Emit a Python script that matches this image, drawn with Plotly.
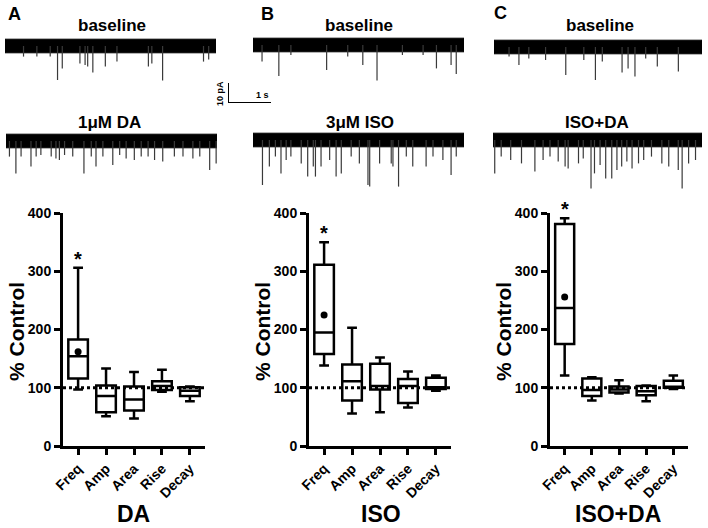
import plotly.graph_objects as go

W, H = 708, 528
FONT = "Liberation Sans, Arial, sans-serif"

# ---------------- data ----------------
params = ["Freq", "Amp", "Area", "Rise", "Decay"]
panel_titles = ["DA", "ISO", "ISO+DA"]
panel_letters = ["A", "B", "C"]
condition_labels = ["1\u03bcM DA", "3\u03bcM ISO", "ISO+DA"]
control_level = 100
y_ticks = [0, 100, 200, 300, 400]

# box statistics (% control): whisker min, q1, median, q3, whisker max
da_low = [97, 51, 47, 93, 77]
da_q1 = [116, 58, 61, 96, 86]
da_med = [154, 86, 80, 103, 95]
da_q3 = [183, 104, 102, 111, 101]
da_high = [306, 133, 127, 131, 102]
da_freq_mean = 162

iso_low = [138, 56, 58, 66, 95]
iso_q1 = [158, 78, 97, 74, 98]
iso_med = [195, 111, 103, 103, 101]
iso_q3 = [311, 140, 141, 115, 117]
iso_high = [350, 203, 152, 128, 121]
iso_freq_mean = 225

isoda_low = [121, 78, 90, 77, 98]
isoda_q1 = [175, 86, 92, 87, 100]
isoda_med = [237, 96, 97, 94, 101]
isoda_q3 = [381, 116, 102, 103, 112]
isoda_high = [391, 118, 113, 104, 121]
isoda_freq_mean = 256

trace_len_s = [4.9, 4.9, 4.84]
noise_half_pA = 3.4

a_base_t = [0.43, 0.74, 1.05, 1.22, 1.33, 1.74, 1.86, 1.92, 2.04, 2.33, 2.60, 3.33, 3.41, 3.66, 4.61, 4.73]
a_base_a = [5.3, 5.3, 5.3, 17.0, 11.2, 8.7, 9.5, 10.3, 13.3, 10.3, 7.8, 10.3, 8.7, 17.3, 7.8, 6.7]
a_drug_t = [0.08, 0.23, 0.35, 0.58, 0.70, 0.81, 1.05, 1.16, 1.24, 1.36, 1.55, 1.81, 1.98, 2.09, 2.25,
            2.48, 2.64, 2.79, 2.98, 3.14, 3.30, 3.45, 3.64, 3.91, 4.11, 4.34, 4.50, 4.73, 4.88]
a_drug_a = [7.8, 16.2, 7.8, 12.8, 7.8, 7.0, 7.8, 8.7, 9.5, 7.0, 7.8, 16.2, 7.8, 12.8, 7.8,
            12.0, 7.0, 8.7, 9.5, 7.8, 7.8, 9.5, 10.3, 7.8, 7.8, 8.7, 7.8, 14.5, 11.2]
b_base_t = [0.21, 0.60, 0.88, 1.71, 2.20, 2.55, 2.88, 3.47, 3.95, 4.26, 4.60, 4.72]
b_base_a = [8.3, 15.5, 5.0, 12.5, 5.8, 10.0, 17.8, 5.0, 5.0, 11.7, 10.0, 14.5]
b_drug_t = [0.22, 0.38, 0.52, 0.65, 0.77, 0.88, 1.12, 1.27, 1.40, 1.45, 1.58, 1.78, 1.93, 2.05, 2.28,
            2.47, 2.67, 2.71, 2.94, 3.21, 3.25, 3.38, 3.56, 3.71, 4.02, 4.18, 4.41, 4.60, 4.72]
b_drug_a = [22.5, 13.3, 8.3, 16.7, 10.0, 8.3, 11.7, 18.3, 13.3, 18.3, 13.3, 10.0, 18.3, 16.7, 8.3,
            11.7, 22.5, 23.3, 11.7, 11.7, 13.3, 23.3, 8.3, 13.3, 13.3, 8.3, 10.0, 17.5, 8.3]
c_base_t = [0.35, 0.58, 0.81, 1.20, 1.67, 2.09, 2.36, 2.52, 2.98, 3.12, 3.28, 3.53, 3.80, 4.29]
c_base_a = [4.8, 9.0, 5.7, 6.5, 14.0, 6.5, 16.5, 7.3, 12.8, 10.7, 14.8, 5.7, 9.8, 12.3]
c_drug_t = [0.04, 0.19, 0.41, 0.66, 0.97, 1.16, 1.32, 1.51, 1.67, 1.74, 1.98, 2.09, 2.27, 2.35, 2.48,
            2.61, 2.75, 2.87, 2.98, 3.10, 3.22, 3.37, 3.49, 3.67, 3.91, 4.07, 4.29, 4.38, 4.53, 4.69]
c_drug_a = [16.7, 8.3, 10.0, 11.7, 15.8, 10.0, 8.3, 10.8, 13.3, 14.2, 11.7, 9.2, 24.2, 16.7, 12.5,
            19.2, 19.2, 15.0, 13.3, 10.8, 14.2, 11.7, 10.0, 8.3, 11.7, 13.3, 15.0, 24.2, 11.7, 10.0]

scale_pA = 10
scale_s = 1

# ---------------- layout helpers ----------------
def fx(p):
    return p / W

def fy(p):
    return 1 - p / H

def label(x, y, text, size, angle=0, **kw):
    d = dict(x=fx(x), y=fy(y), xref="paper", yref="paper", text=text, showarrow=False,
             xanchor="center", yanchor="middle", textangle=angle,
             font=dict(size=size, weight="bold", family=FONT))
    d.update(kw)
    return d

fig = go.Figure()
layout = dict(width=W, height=H, margin=dict(l=0, r=0, t=0, b=0, pad=0, autoexpand=False),
              template="none",
              paper_bgcolor="white", plot_bgcolor="rgba(0,0,0,0)",
              showlegend=False, font=dict(family=FONT, color="black"))
annotations = []

box_sets = [
    (da_low, da_q1, da_med, da_q3, da_high, da_freq_mean),
    (iso_low, iso_q1, iso_med, iso_q3, iso_high, iso_freq_mean),
    (isoda_low, isoda_q1, isoda_med, isoda_q3, isoda_high, isoda_freq_mean),
]
box_x_px = [(63, 205), (309, 451), (550, 688)]
box_y_px = (213, 446)
ytitle_x = [16, 262, 503]
title_x = [133, 381, 618]
xr = [-0.54, 4.54]
cats = list(range(len(params)))

for i, (lo, q1, med, q3, hi, mn) in enumerate(box_sets):
    n = "" if i == 0 else str(i + 1)
    xa, ya = "x" + n, "y" + n
    fig.add_trace(go.Scatter(x=xr, y=[control_level, control_level], mode="lines",
                             line=dict(color="black", width=3, dash="dot"),
                             xaxis=xa, yaxis=ya, hoverinfo="skip"))
    fig.add_trace(go.Box(x=cats, lowerfence=lo, q1=q1, median=med, q3=q3, upperfence=hi,
                         width=0.7, whiskerwidth=0.5, boxpoints=False,
                         fillcolor="white", line=dict(color="black", width=2.5),
                         xaxis=xa, yaxis=ya))
    fig.add_trace(go.Scatter(x=[cats[0]], y=[mn], mode="markers",
                             marker=dict(color="black", size=7),
                             xaxis=xa, yaxis=ya))
    layout["xaxis" + n] = dict(domain=[fx(box_x_px[i][0]), fx(box_x_px[i][1])], range=xr,
                               anchor=ya, showline=True, linewidth=3, linecolor="black",
                               ticks="outside", ticklen=6, tickwidth=3, tickcolor="black",
                               tickvals=cats, ticktext=params, tickangle=-45,
                               tickfont=dict(size=14, weight="bold", family=FONT),
                               showgrid=False, zeroline=False, fixedrange=True, automargin=False)
    layout["yaxis" + n] = dict(domain=[fy(box_y_px[1]), fy(box_y_px[0])], range=[0, 400],
                               anchor=xa, showline=True, linewidth=3, linecolor="black",
                               ticks="outside", ticklen=6, tickwidth=3, tickcolor="black",
                               tickvals=y_ticks, tickfont=dict(size=14, weight="bold", family=FONT),
                               showgrid=False, zeroline=False, fixedrange=True, automargin=False)
    annotations.append(dict(x=cats[0], y=hi[0], xref=xa, yref=ya, text="*", showarrow=False,
                            xanchor="center", yanchor="bottom", yshift=-4,
                            font=dict(size=20, weight="bold", family=FONT)))
    annotations.append(label(ytitle_x[i], 332, "% Control", 21, angle=-90))
    annotations.append(label(title_x[i], 514, panel_titles[i], 23))

# ---------------- current traces ----------------
traces = [
    (a_base_t, a_base_a, 0), (a_drug_t, a_drug_a, 0),
    (b_base_t, b_base_a, 1), (b_drug_t, b_drug_a, 1),
    (c_base_t, c_base_a, 2), (c_drug_t, c_drug_a, 2),
]
trace_x_px = [(5, 216), (6, 217), (253, 464), (253, 464), (494, 702), (493, 702)]
trace_center_px = [46, 141, 45, 140, 47, 140]
PX_PER_PA = 2.0
y_top_pa, y_bot_pa = 8, -28

for k, (ts, amps, p) in enumerate(traces):
    n = str(4 + k)
    xa, ya = "x" + n, "y" + n
    L = trace_len_s[p]
    fig.add_trace(go.Scatter(x=[0, L, L, 0, 0],
                             y=[-noise_half_pA, -noise_half_pA, noise_half_pA, noise_half_pA, -noise_half_pA],
                             mode="lines", fill="toself", fillcolor="black",
                             line=dict(color="black", width=1), xaxis=xa, yaxis=ya))
    sx, sy = [], []
    for t, a in zip(ts, amps):
        sx += [t, t, None]
        sy += [0, -a, None]
    fig.add_trace(go.Scatter(x=sx, y=sy, mode="lines", line=dict(color="#3a3a3a", width=1.2),
                             xaxis=xa, yaxis=ya))
    c = trace_center_px[k]
    layout["xaxis" + n] = dict(domain=[fx(trace_x_px[k][0]), fx(trace_x_px[k][1])], range=[0, L],
                               anchor=ya, visible=False, fixedrange=True, automargin=False)
    layout["yaxis" + n] = dict(domain=[fy(c - y_bot_pa * PX_PER_PA), fy(c - y_top_pa * PX_PER_PA)],
                               range=[y_bot_pa, y_top_pa], anchor=xa, visible=False,
                               fixedrange=True, automargin=False)

# scale bar
fig.add_trace(go.Scatter(x=[0, 0, scale_s], y=[scale_pA, 0, 0], mode="lines",
                         line=dict(color="black", width=2), xaxis="x10", yaxis="y10"))
layout["xaxis10"] = dict(domain=[fx(228), fx(271)], range=[0, scale_s], anchor="y10",
                         visible=False, fixedrange=True, automargin=False)
layout["yaxis10"] = dict(domain=[fy(103), fy(83)], range=[0, scale_pA], anchor="x10",
                         visible=False, fixedrange=True, automargin=False)
annotations.append(dict(x=0, y=scale_pA / 2, xref="x10", yref="y10", text=f"{scale_pA} pA",
                        textangle=-90, showarrow=False, xanchor="right", yanchor="middle", xshift=-1,
                        font=dict(size=9, weight="bold", family=FONT)))
annotations.append(dict(x=0.8, y=0, xref="x10", yref="y10", text=f"{scale_s} s",
                        showarrow=False, xanchor="center", yanchor="bottom", yshift=1,
                        font=dict(size=9, weight="bold", family=FONT)))

# trace titles and panel letters
base_title_x = [112, 359, 600]
drug_title_x = [109, 360, 597]
letter_pos = [(14, 14), (267, 14), (500, 13)]
for i in range(3):
    annotations.append(label(base_title_x[i], 26, "baseline", 17))
    annotations.append(label(drug_title_x[i], 122, condition_labels[i], 17))
    annotations.append(label(letter_pos[i][0], letter_pos[i][1], panel_letters[i], 18))

layout["annotations"] = annotations
fig.update_layout(**layout)
fig.write_html("out.html", config={"displayModeBar": False},
               post_script="document.body.style.margin='0px';")
